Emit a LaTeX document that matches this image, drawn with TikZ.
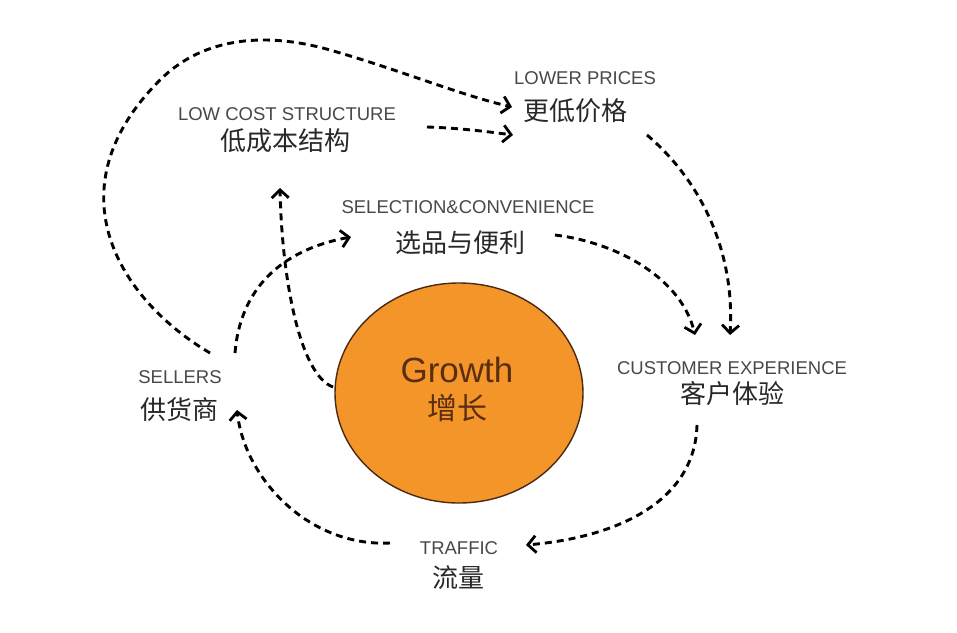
\documentclass[tikz,border=0pt]{standalone}
\usepackage{fontspec}
\setmainfont{Liberation Sans}
\newfontfamily\cjk{Noto Sans CJK SC}
\usetikzlibrary{arrows.meta,shapes.geometric}
\definecolor{orangefill}{HTML}{F39528}
\definecolor{brownline}{HTML}{4A2A12}
\definecolor{growthtxt}{HTML}{5A2E12}
\definecolor{labelgray}{HTML}{484848}
\definecolor{cjkgray}{HTML}{282828}
\tikzset{
  entext/.style={inner sep=0pt, text=labelgray, font=\fontsize{18.5}{18.5}\selectfont},
  zhtext/.style={inner sep=0pt, text=cjkgray, font=\cjk\fontsize{26}{26}\selectfont},
  flow/.style={line width=2.9pt, dash pattern=on 7pt off 5pt, black,
    -{Straight Barb[length=8pt,width=17pt,line width=2.8pt]}}
}
\begin{document}
\begin{tikzpicture}[x=1pt,y=-1pt]
\useasboundingbox[fill=white] (0,0) rectangle (957,632);

% growth ellipse
\node[draw=brownline, line width=1.4pt, fill=orangefill, ellipse, minimum width=248pt, minimum height=220pt, inner sep=0pt] (growth) at (459,393) {};
\node[inner sep=0pt, text=growthtxt, font=\fontsize{35}{35}\selectfont] (growthen) at (457,370) {Growth};
\node[inner sep=0pt, text=growthtxt, font=\cjk\fontsize{30}{30}\selectfont] (growthzh) at (457,408) {增长};

% labels
\node[entext] (lpen) at (585,78) {LOWER PRICES};
\node[zhtext] (lpzh) at (575,111) {更低价格};
\node[entext] (lcen) at (287,114) {LOW COST STRUCTURE};
\node[zhtext] (lczh) at (285,141) {低成本结构};
\node[entext] (scen) at (468,207) {SELECTION\&CONVENIENCE};
\node[zhtext] (sczh) at (460,243) {选品与便利};
\node[entext] (slen) at (180,377) {SELLERS};
\node[zhtext] (slzh) at (179,410) {供货商};
\node[entext] (ceen) at (732,368) {CUSTOMER EXPERIENCE};
\node[zhtext] (cezh) at (732,394) {客户体验};
\node[entext] (tren) at (459,548) {TRAFFIC};
\node[zhtext] (trzh) at (458,578) {流量};

% connector end points
\coordinate (sellTopL) at (210,353);
\coordinate (lpIn1) at (512,107);
\coordinate (lcOut) at (427,127);
\coordinate (lpIn2) at (513,135);
\coordinate (lpOut) at (647,135);
\coordinate (ceIn1) at (730,335);
\coordinate (scOut) at (555,235);
\coordinate (ceIn2) at (695,335);
\coordinate (ceOut) at (697,425);
\coordinate (trIn) at (526,545);
\coordinate (trOut) at (390,543);
\coordinate (slIn) at (237,410);
\coordinate (sellTopR) at (235,353);
\coordinate (scIn) at (351,237);
\coordinate (grOut) at (333,387);
\coordinate (lcIn) at (280,188);

% connectors
\draw[flow] (sellTopL) .. controls (120,300) and (50,190) .. (160,80)
  .. controls (200,40) and (260,30) .. (330,50)
  .. controls (400,70) and (460,95) .. (lpIn1);
\draw[flow] (lcOut) .. controls (460,128) and (490,132) .. (lpIn2);
\draw[flow] (lpOut) .. controls (700,180) and (735,250) .. (ceIn1);
\draw[flow] (scOut) .. controls (620,243) and (682,280) .. (ceIn2);
\draw[flow] (ceOut) .. controls (695,500) and (620,537) .. (trIn);
\draw[flow] (trOut) .. controls (310,547) and (245,480) .. (slIn);
\draw[flow] (sellTopR) .. controls (240,290) and (280,250) .. (scIn);
\draw[flow] (grOut) .. controls (300,375) and (282,280) .. (lcIn);
\end{tikzpicture}
\end{document}
